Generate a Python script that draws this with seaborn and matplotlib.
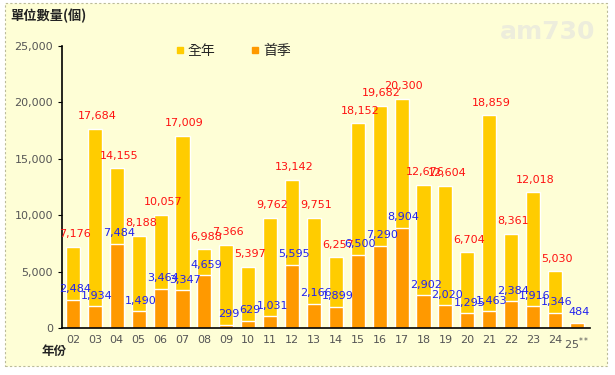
import numpy as np
import pandas as pd
import matplotlib
matplotlib.use('Agg')
import matplotlib.pyplot as plt
from matplotlib.patches import Rectangle
from matplotlib.lines import Line2D
import seaborn as sns

# Data
years = ['02', '03', '04', '05', '06', '07', '08', '09', '10', '11', '12', '13',
         '14', '15', '16', '17', '18', '19', '20', '21', '22', '23', '24', '25$^{**}$']
full_year = [7176, 17684, 14155, 8188, 10057, 17009, 6988, 7366, 5397, 9762, 13142, 9751,
             6257, 18152, 19682, 20300, 12676, 12604, 6704, 18859, 8361, 12018, 5030, np.nan]
first_quarter = [2484, 1934, 7484, 1490, 3464, 3347, 4659, 299, 629, 1031, 5595, 2166,
                 1899, 6500, 7290, 8904, 2902, 2020, 1295, 1463, 2384, 1916, 1346, 484]

df = pd.DataFrame({'year': years, 'full': full_year, 'q1': first_quarter})

sns.set_style("white")
plt.rcParams['font.family'] = ['DejaVu Sans', 'Noto Sans CJK TC']
cjk = ['Noto Sans CJK TC', 'DejaVu Sans']

gold = '#FFCC00'
orange = '#FF9900'
bg = '#FEFED6'

fig = plt.figure(figsize=(6.15, 3.75), dpi=100, facecolor='white')
# dotted frame with light yellow panel
fig.patches.append(Rectangle((5 / 615, 1 - 366 / 375), 602 / 615, 363 / 375,
                             transform=fig.transFigure, facecolor=bg,
                             edgecolor='#BBBB99', linestyle=(0, (2, 2)), linewidth=0.8,
                             zorder=-10))

ax = fig.add_axes([62 / 615, 47 / 375, 528 / 615, 282 / 375])
ax.set_facecolor('none')

sns.barplot(x='year', y='full', data=df, order=years, color=gold, width=0.64,
            saturation=1, errorbar=None, ax=ax)
sns.barplot(x='year', y='q1', data=df, order=years, color=orange, width=0.64,
            saturation=1, errorbar=None, ax=ax)

for i, (f, q) in enumerate(zip(full_year, first_quarter)):
    if not np.isnan(f):
        ax.annotate(f'{int(f):,}', (i, f), xytext=(1.5, 5.5), textcoords='offset points',
                    ha='center', va='bottom', color='#FF1111', fontsize=8)
    ax.annotate(f'{q:,}', (i, q), xytext=(1.5, 4), textcoords='offset points',
                ha='center', va='bottom', color='#2222EE', fontsize=8)

ax.set_xlim(-0.5, 23.6)
ax.set_ylim(0, 25000)
ax.set_yticks(range(0, 25001, 5000))
ax.set_yticklabels([f'{v:,}' for v in range(0, 25001, 5000)])
ax.tick_params(axis='y', color='black', labelsize=8, length=3, direction='out',
               left=True, labelcolor='#555555')
ax.tick_params(axis='x', length=0, labelsize=8, labelcolor='#555555', pad=5)
ax.set_xlabel('')
ax.set_ylabel('')
for s in ['top', 'right']:
    ax.spines[s].set_visible(False)
for s in ['left', 'bottom']:
    ax.spines[s].set_color('black')
    ax.spines[s].set_linewidth(1.2)

# titles
fig.text(10 / 615, 1 - 16 / 375, '單位數量(個)', family=cjk, fontsize=9.5,
         fontweight='bold', va='center', ha='left', color='#222222')
fig.text(42 / 615, 1 - 352 / 375, '年份', family=cjk, fontsize=9,
         fontweight='bold', va='center', ha='left', color='#222222')

# legend
handles = [Line2D([], [], marker='s', linestyle='', color=gold, markersize=4),
           Line2D([], [], marker='s', linestyle='', color=orange, markersize=4)]
leg = ax.legend(handles, ['全年', '首季'], ncol=2, frameon=False,
                loc='center left', bbox_to_anchor=(163 / 615, 1 - 51 / 375),
                bbox_transform=fig.transFigure, handlelength=0.6, handletextpad=0.3,
                columnspacing=2.5, prop={'family': cjk, 'size': 10})

# watermark
fig.text(548 / 615, 1 - 32 / 375, 'am730', fontsize=18, fontweight='bold',
         color='#EDEDDC', ha='center', va='center')

fig.savefig('out.png', dpi=100, facecolor=fig.get_facecolor())
